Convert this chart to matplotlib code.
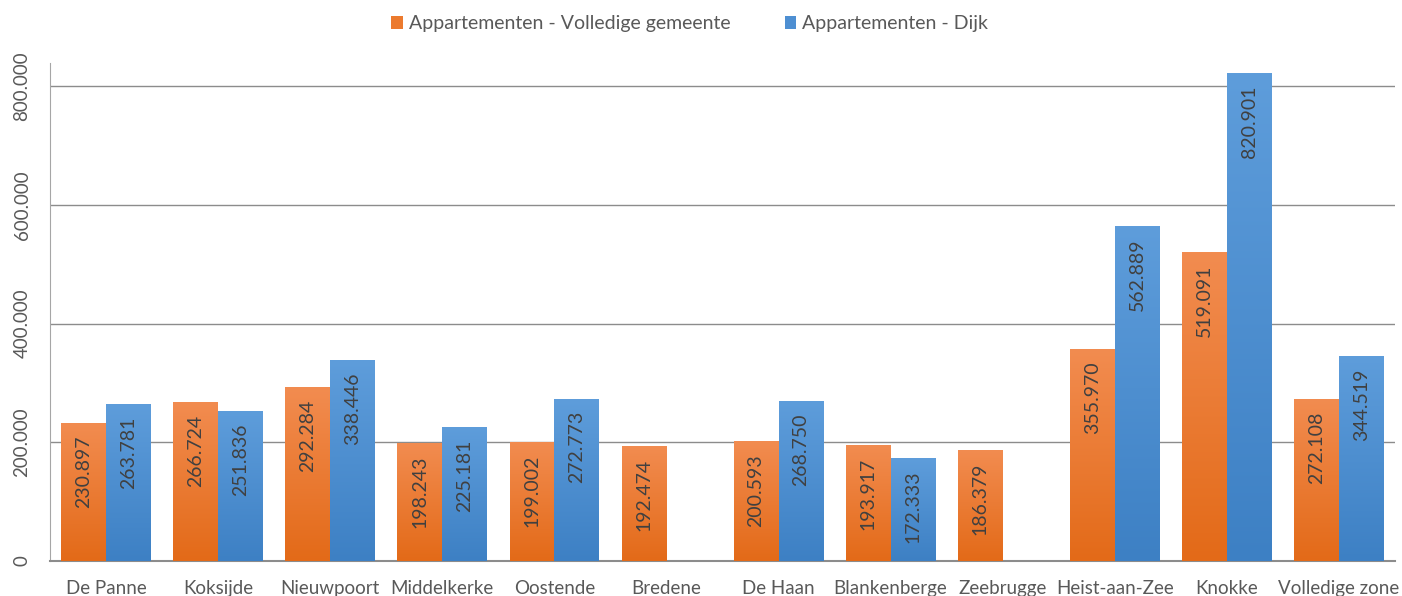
import numpy as np
import matplotlib
matplotlib.use("Agg")
import matplotlib.pyplot as plt
from matplotlib.colors import LinearSegmentedColormap
from matplotlib.ticker import FuncFormatter

plt.rcParams['font.family'] = ['Lato', 'DejaVu Sans']

gemeenten = ["De Panne", "Koksijde", "Nieuwpoort", "Middelkerke", "Oostende", "Bredene",
             "De Haan", "Blankenberge", "Zeebrugge", "Heist-aan-Zee", "Knokke", "Volledige zone"]
volledig = [230897, 266724, 292284, 198243, 199002, 192474,
            200593, 193917, 186379, 355970, 519091, 272108]
dijk = [263781, 251836, 338446, 225181, 272773, np.nan,
        268750, 172333, np.nan, 562889, 820901, 344519]
reeksen = ["Appartementen - Volledige gemeente", "Appartementen - Dijk"]

fig = plt.figure(figsize=(14.02, 5.96), dpi=100)
ax = fig.add_axes([50 / 1402, 35 / 596, 1345 / 1402, 498 / 596])

x = np.arange(len(gemeenten))
w = 0.4
oranje = ax.bar(x - w / 2, volledig, w, color="#EC7A2E", label=reeksen[0], zorder=2)
blauw = ax.bar(x + w / 2, dijk, w, color="#4E8FD2", label=reeksen[1], zorder=2)

# verloop in de balken (licht boven, donker onder)
verloop = np.linspace(0, 1, 256).reshape(-1, 1)
cm_o = LinearSegmentedColormap.from_list("o", ["#E36A18", "#F28C50"])
cm_b = LinearSegmentedColormap.from_list("b", ["#3D80C4", "#5E9DDB"])
for bars, cm in [(oranje, cm_o), (blauw, cm_b)]:
    for b in bars:
        h = b.get_height()
        if np.isnan(h):
            continue
        x0 = b.get_x()
        ax.imshow(verloop, extent=[x0, x0 + b.get_width(), 0, h], origin="lower",
                  aspect="auto", cmap=cm, zorder=3)
        ax.annotate(f"{h:,.0f}".replace(",", "."), (x0 + b.get_width() / 2, h),
                    xytext=(0, -12), textcoords="offset pixels", rotation=90,
                    ha="center", va="top", fontsize=14, color="#404040", zorder=4)

ax.set_xlim(-0.5, len(gemeenten) - 0.5)
ax.set_ylim(0, 839000)
ax.set_yticks([0, 200000, 400000, 600000, 800000])
ax.yaxis.set_major_formatter(FuncFormatter(lambda v, p: f"{v:,.0f}".replace(",", ".")))
ax.set_xticks(x)
ax.set_xticklabels(gemeenten)
ax.grid(axis="y", color="#8C8C8C", linewidth=1, zorder=1)
for s in ["top", "right"]:
    ax.spines[s].set_visible(False)
ax.spines["left"].set_color("#A6A6A6")
ax.spines["bottom"].set_color("#8C8C8C")
ax.spines["bottom"].set_linewidth(1.5)
ax.tick_params(axis="x", length=0, pad=14, labelsize=13.5, labelcolor="#595959")
ax.tick_params(axis="y", length=0, pad=14, labelsize=13.5, labelcolor="#595959")
for t in ax.get_yticklabels():
    t.set_rotation(90)
    t.set_va("center")

fig.legend(handles=[oranje, blauw], labels=reeksen, loc="center", bbox_to_anchor=(0.492, 1 - 24 / 596),
           ncol=2, frameon=False, fontsize=14, labelcolor="#595959", handlelength=0.6,
           handleheight=0.6, handletextpad=0.3, columnspacing=2.8)

fig.savefig("out.png", dpi=100)
